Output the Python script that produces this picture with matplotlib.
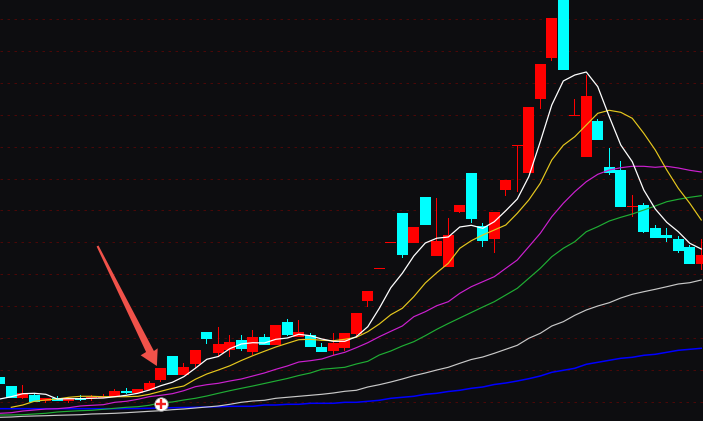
import numpy as np
import matplotlib
matplotlib.use("Agg")
import matplotlib.pyplot as plt
from matplotlib.patches import Polygon

nan = float('nan')
colors = ['c','c','r','c','r','c','r','c','r','r','r','c','r','r','r','c','r','r','c','r',
          'r','c','r','c','r','c','r','c','c','r','r','r','r','r','r','c','r','c','r','r',
          'r','c','c','r','r','r','r','r','r','c','r','r','c','c','c','r','c','c','c','c','c','r']
body_top = [377,386,393.3,395,398,398.3,397.7,398,396.7,397,391,390.7,388.7,383,368,356,367,350,332,344,
            342,340,337,337,325,322,332,335,347,343,333,313,291,268,242,213,227,197,241,235,
            205,173,226,212,180,145,107,64,18,-10,115,96,121,167,170,206,205,228,235,239,247,255]
body_bot = [384,398,397.7,401.7,400.7,401,400.7,399.7,398,398,397.3,392.7,393.3,390,380,375,375,364,339,353,
            350,349,352,345,345,335,337,347,352,351,348,334,301,269,243,255,243,225,256,267,
            212,219,241,239,190,146,173,99,58,70,116,157,140,173,207,207,232,238,238,251,264,264]
highs = [377,386,385,393,398,396,397.7,395,395,394,389.3,388,388.7,381,368,356,363.3,350,332,327,
         335,335,330,334,325,319,320,333,343,333,333,313,291,268,242,213,227,197,198,218,
         205,173,223,212,180,145,107,64,18,-10,99,75,119,148,161,195,203,225,228,236,245,239]
lows = [391,398,399,401.7,402.7,401,402.7,400.7,400.7,398,397.3,394,393.3,390,381.7,375,375,368,344,357,
        357,351,355,345,345,336,337,347,352,355,351,336,307,269,243,258,243,225,256,267,
        213,223,247,253,196,192,173,109,61,70,116,157,140,175,207,217,233,238,242,253,264,270]

ma_white = [399,396.7,393.7,393.3,394.3,399,398.7,398.7,398.3,398,396.7,395.3,393.3,390,385.7,382.3,376.7,368.3,359.3,356.5,
            348.7,344,342.7,343,339.3,338,334.3,335.7,339,341.3,341.3,336.7,326.7,308.3,287.7,273.3,256,243,238.2,237,
            227,225.3,228.3,221.7,210.7,199,176.7,141.7,105,81,75,72,86.7,116.7,145,161.7,190,209,222.3,231.7,243.3,249]
ma_yellow = [nan,407.3,405,401.3,400,399,397.3,396.3,396.3,396.7,396.7,396.7,396.3,394.3,391.3,388.3,386,379.3,374,370,
             365.8,360.5,355.7,351.3,347,343.3,339.7,339.3,340.3,340.7,339.3,337.3,331.7,324,314.7,308.3,296.7,283,272.7,263.3,
             248.3,240.7,235,230,225,213.3,200,183.3,160,145.3,136.7,125,113.3,110.3,112.3,118.3,133.3,150,170,188.3,203.3,220]
ma_magenta = [413.3,412.7,411,410,409,408.7,407.7,406,405.3,404.7,402.3,401.3,399.3,396.7,395.3,393.7,390.7,386.7,384.7,383.3,
              381,379,376,373,369.3,366,362,360.7,359,355.3,352.3,347.7,342.7,336.7,331.3,326,316.7,311.7,305.7,301.7,
              293.3,286.7,281.7,276.7,268.3,260,246.7,233.3,216.7,203.3,191.7,181.7,174.3,170,167.7,166.3,166.3,167.3,166.3,168,170.3,172]
ma_green = [415,415,414.7,414,413.3,412,411.3,410.7,410.3,409.3,408.3,407.3,406.7,405.3,402.7,402,400,398.3,396,393.3,
            390.7,388.3,386,383.5,381,378.5,375.5,373,369.3,368.3,367.3,364,361.3,355,351,346,341.7,335.7,329.3,323.5,
            318,312.5,307,301.7,295,288.3,278.3,268.3,256.7,248.3,241.7,231.7,226.7,221,217.3,214,210,206,201.7,199.3,197.3,195.7]
ma_gray = [417.3,417,416.3,416,415.7,415.3,415,414.7,414,413.7,413.3,412.7,412,411.3,410.7,409.7,409,408,407,406,
           404.3,402.3,401,400.3,398.3,397.3,396.3,395.3,394.3,393,391.3,390.3,387,384.7,382,379,375.7,373,370,367.3,
           363.3,359.5,357,353.3,349.3,345.3,338.3,333.3,326,321.7,315.3,310,306,302.7,298,294.3,291.7,289.3,286.7,284,282.7,280]
ma_blue = [408.7,408.7,408.7,408.7,408.7,408.7,408.7,408.7,408.7,408.7,408.7,408.5,408.5,408.3,408,407.7,407.5,407.3,407,406.7,
           406.3,406.3,406.3,405,405,404.3,404.3,403.3,403.3,403.3,402.3,402.3,401.3,400.3,398.3,397.3,396.3,394.3,393.3,391.5,
           390.3,388.3,387,384.5,383,381,378.7,376,372.3,370.3,368.3,364.3,362.3,360.3,358.3,357.3,355.3,354.3,352.3,350.3,349.3,348.3]

grid_levels = [19.3,51.3,83.3,115.3,147.3,179.3,210.3,242.3,274.3,306.3,338.3,370.3,402.3]
arrow_x = [8.58,13.40,13.73,13.66,12.25,12.72,8.42]   # tail, neck, barb, tip, barb, neck, tail
arrow_y = [245.5,351,348.3,366,355.3,352,246.5]
signal_x, signal_y = 14.02, 404

BG = '#0d0d10'
RED, CYAN = '#ff0000', '#00ffff'

fig = plt.figure(figsize=(7.03, 4.21), dpi=100, facecolor=BG)
ax = fig.add_axes([0, 0, 1, 1], facecolor=BG)
ax.set_xlim(0.017, 61.15)
ax.set_ylim(421, 0)
ax.axis('off')

for lv in grid_levels:
    ax.axhline(lv, color='#4a0808', lw=0.72, ls=(0, (2.5, 4.5)), zorder=1)

x = np.arange(len(colors))
col = [RED if c == 'r' else CYAN for c in colors]
ax.bar(x, np.array(lows) - np.array(highs), bottom=highs, width=1.1 / 11.5,
       color=col, lw=0, zorder=2, antialiased=True)
ax.bar(x, np.array(body_bot) - np.array(body_top), bottom=body_top, width=0.95,
       color=col, lw=0, zorder=3, antialiased=False)

ax.plot(x, ma_blue, color='#0000ff', lw=1.1, zorder=4)
ax.plot(x, ma_gray, color='#c8c8c8', lw=0.85, zorder=4)
ax.plot(x, ma_green, color='#1fae34', lw=0.85, zorder=4)
ax.plot(x, ma_magenta, color='#cc20d0', lw=0.85, zorder=4)
ax.plot(x, ma_yellow, color='#e6c81e', lw=0.85, zorder=5)
ax.plot(x, ma_white, color='#ffffff', lw=0.9, zorder=6)

ax.add_patch(Polygon(list(zip(arrow_x, arrow_y)), closed=True, facecolor='#f0524a',
                     edgecolor='none', zorder=7))
ax.plot([signal_x], [signal_y], 'o', ms=9.6, mfc='white', mec='#b0b0b0', mew=0.6, zorder=8)
ax.plot([signal_x], [signal_y], '+', ms=7, mec='#f02020', mew=1.7, zorder=9)

fig.savefig('out.png', dpi=100, facecolor=BG)
